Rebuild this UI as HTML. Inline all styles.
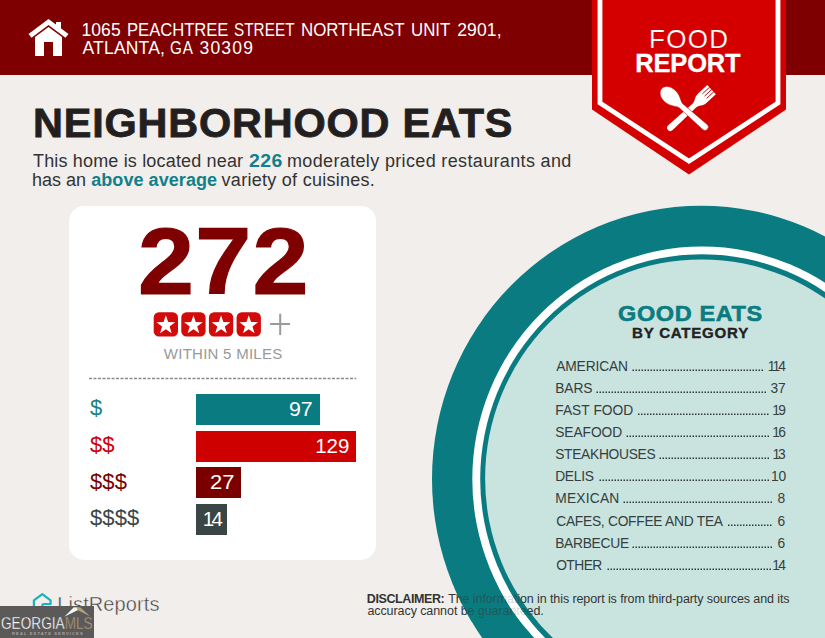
<!DOCTYPE html>
<html><head><meta charset="utf-8">
<style>
html,body{margin:0;padding:0;}
body{width:825px;height:638px;overflow:hidden;background:#f1eeeb;font-family:"Liberation Sans",sans-serif;position:relative;}
.abs{position:absolute;white-space:nowrap;line-height:1;}
#hdr{position:absolute;left:0;top:0;width:825px;height:75px;background:#7f0000;}
#bgsvg{position:absolute;left:0;top:0;}
.t{position:absolute;white-space:nowrap;line-height:1;transform-origin:0 0;}
#card{position:absolute;left:69px;top:205.5px;width:307px;height:354.5px;background:#fff;border-radius:15px;}
.bar{position:absolute;left:196px;height:31px;}
.bn{color:#fff;font-size:20.5px;}
.dl{font-size:22px;}
.ad{font-size:17.5px;color:#fff;}
.st{font-size:18px;color:#333;}
.sb{font-weight:bold;color:#12808a;}
.rl{font-size:13.8px;color:#34403f;}
</style></head><body>
<div id="hdr"></div>
<svg id="bgsvg" width="825" height="638" viewBox="0 0 825 638">
  <!-- circles -->
  <ellipse cx="701.1" cy="479" rx="269.1" ry="273.3" fill="#0a7c81"/>
  <ellipse cx="702" cy="479.2" rx="229.7" ry="232.6" fill="#ffffff"/>
  <ellipse cx="702" cy="479" rx="221.8" ry="224.8" fill="#0a7c81"/>
  <ellipse cx="701.5" cy="478.6" rx="216.4" ry="219.2" fill="#c9e3df"/>
  <!-- badge -->
  <polygon points="592,0 786,0 786,109.6 689,174.6 592,109.6" fill="#d40000"/>
  <polygon points="600,-5 778,-5 778,103 689,161.2 600,103" fill="none" stroke="#fff" stroke-width="4.8"/>

  <!-- spoon & fork -->
  <g fill="#fff">
    <g transform="translate(687.7,111.7) rotate(47.2)">
      <path d="M-3.3,23.5 L-2.6,-9 C-2.6,-13 -6.3,-14.5 -6.3,-20 L-6.3,-32.5 L6.3,-32.5 L6.3,-20 C6.3,-14.5 2.6,-13 2.6,-9 L3.3,23.5 A3.3,3.4 0 0 1 -3.3,23.5 Z"/>
      <g stroke="#c40000" stroke-width="0.9"><line x1="-3.1" y1="-32.8" x2="-3.1" y2="-23"/><line x1="0" y1="-32.8" x2="0" y2="-23"/><line x1="3.1" y1="-32.8" x2="3.1" y2="-23"/></g>
    </g>
    <g transform="translate(687.7,111.7) rotate(-48.5)" stroke="#d40000" stroke-width="0.5">
      <path d="M-3.4,23 L-2.7,-9 C-2.9,-12.5 -7.8,-16 -7.8,-24 C-7.8,-30.5 -4,-34.8 0,-34.8 C4,-34.8 7.8,-30.5 7.8,-24 C7.8,-16 2.9,-12.5 2.7,-9 L3.4,23 A3.4,3.4 0 0 1 -3.4,23 Z"/>
    </g>
  </g>
  <!-- house icon -->
  <g fill="#fff">
    <polygon points="48.5,19 68.5,34 65.5,37.8 48.5,25 31.5,37.8 28.5,34"/>
    <rect x="56" y="22" width="5" height="9"/>
    <path d="M35,37 L48.5,27 L62,37 L62,56 L53,56 L53,42 L44,42 L44,56 L35,56 Z"/>
  </g>
</svg>
<div class="t ad" id="a1_0" style="left:81.5px;top:22.4px;letter-spacing:0.067px;">1065</div>
<div class="t ad" id="a1_1" style="left:127.1px;top:22.4px;transform:scaleX(0.95);letter-spacing:-0.026px;">PEACHTREE</div>
<div class="t ad" id="a1_2" style="left:233.5px;top:22.4px;transform:scaleX(0.87);letter-spacing:0.09px;">STREET</div>
<div class="t ad" id="a1_3" style="left:300.5px;top:22.4px;transform:scaleX(0.965);letter-spacing:-0.05px;">NORTHEAST</div>
<div class="t ad" id="a1_4" style="left:411.2px;top:22.4px;transform:scaleX(0.96);letter-spacing:0px;">UNIT</div>
<div class="t ad" id="a1_5" style="left:457.2px;top:22.4px;letter-spacing:0.15px;">2901,</div>
<div class="t ad" id="a2_0" style="left:82.5px;top:40px;letter-spacing:0.2px;">ATLANTA,</div>
<div class="t ad" id="a2_1" style="left:169.7px;top:40px;transform:scaleX(0.87);letter-spacing:0.9px;">GA</div>
<div class="t ad" id="a2_2" style="left:199.5px;top:40px;letter-spacing:1.2px;">30309</div>
<div class="t" id="fr1" style="left:648.6px;top:26.8px;font-size:25px;color:#fff;transform:scaleX(1.04);letter-spacing:1.218px;-webkit-text-stroke:0.2px #d40000;">FOOD</div>
<div class="t" id="fr2" style="left:635.2px;top:51.2px;font-size:25.5px;color:#fff;font-weight:bold;letter-spacing:-0.16px;-webkit-text-stroke:0.3px #fff;">REPORT</div>
<div class="t" id="title" style="left:33.2px;top:103.2px;font-size:40px;font-weight:bold;color:#231f20;transform:scaleX(1.035);letter-spacing:0.797px;-webkit-text-stroke:0.8px #231f20;">NEIGHBORHOOD EATS</div>
<div class="t st" id="s1a" style="left:33px;top:152px;letter-spacing:0.1667px;">This home is located near</div>
<div class="t st sb" id="s1b" style="left:249.2px;top:152px;letter-spacing:0.46px;transform:scaleX(1.08);">226</div>
<div class="t st" id="s1c" style="left:287px;top:152px;letter-spacing:0.35px;">moderately priced restaurants and</div>
<div class="t st" id="s2a" style="left:32px;top:170.5px;letter-spacing:0px;">has an</div>
<div class="t st sb" id="s2b" style="left:91.2px;top:170.5px;letter-spacing:0.0667px;">above average</div>
<div class="t st" id="s2c" style="left:221.6px;top:170.5px;letter-spacing:0.2737px;">variety of cuisines.</div>
<div id="card"></div>

<svg class="abs" style="left:0;top:0;" width="825" height="638" viewBox="0 0 825 638">
  
  <g>
    <rect x="153.7" y="312.2" width="24.3" height="24.2" rx="5.2" fill="#d20a0a"/>
    <rect x="181.3" y="312.2" width="24.3" height="24.2" rx="5.2" fill="#d20a0a"/>
    <rect x="208.9" y="312.2" width="24.3" height="24.2" rx="5.2" fill="#d20a0a"/>
    <rect x="236.6" y="312.2" width="24.3" height="24.2" rx="5.2" fill="#d20a0a"/>
    <polygon transform="translate(165.85,325.2)" points="0,-9.9 2.3,-3.15 9.35,-3.05 3.75,1.2 5.8,8 0,3.95 -5.8,8 -3.75,1.2 -9.35,-3.05 -2.3,-3.15" fill="#fff"/>
    <polygon transform="translate(193.45,325.2)" points="0,-9.9 2.3,-3.15 9.35,-3.05 3.75,1.2 5.8,8 0,3.95 -5.8,8 -3.75,1.2 -9.35,-3.05 -2.3,-3.15" fill="#fff"/>
    <polygon transform="translate(221.05,325.2)" points="0,-9.9 2.3,-3.15 9.35,-3.05 3.75,1.2 5.8,8 0,3.95 -5.8,8 -3.75,1.2 -9.35,-3.05 -2.3,-3.15" fill="#fff"/>
    <polygon transform="translate(248.75,325.2)" points="0,-9.9 2.3,-3.15 9.35,-3.05 3.75,1.2 5.8,8 0,3.95 -5.8,8 -3.75,1.2 -9.35,-3.05 -2.3,-3.15" fill="#fff"/>
    <path d="M270.1,324.1 H290.1 M280.2,313.7 V335" stroke="#9a9a9a" stroke-width="2" fill="none"/>
    <line x1="89" y1="378.5" x2="356.2" y2="378.5" stroke="#8a8a8a" stroke-width="1.4" stroke-dasharray="3 1.5"/>
  </g>
</svg>
<div class="bar" style="top:394.1px;height:30.9px;width:124.2px;background:#0a7c81;"></div>
<div class="bar" style="top:430.7px;height:31.3px;width:160.1px;background:#cf0000;"></div>
<div class="bar" style="top:467.3px;height:30.9px;width:45.4px;background:#7a0000;"></div>
<div class="bar" style="top:503.8px;height:30.8px;width:30.5px;background:#3a4646;"></div>
<div class="t bn" id="n1" style="left:288.8px;top:398.5px;letter-spacing:0px;transform:scaleX(1.04);">97</div>
<div class="t bn" id="n2" style="left:315.2px;top:435.6px;letter-spacing:0px;">129</div>
<div class="t bn" id="n3" style="left:209.6px;top:471.8px;letter-spacing:0px;transform:scaleX(1.07);">27</div>
<div class="t bn" id="n4" style="left:202.8px;top:508.5px;letter-spacing:-2.6px;">14</div>
<div class="t dl" id="l1" style="left:89.9px;top:397.4px;color:#16838a;letter-spacing:0.15px;">$</div>
<div class="t dl" id="l2" style="left:89.9px;top:434.1px;color:#cf0000;letter-spacing:0.15px;">$$</div>
<div class="t dl" id="l3" style="left:89.9px;top:470.8px;color:#7a0000;letter-spacing:0.15px;">$$$</div>
<div class="t dl" id="l4" style="left:89.9px;top:507.4px;color:#3a4646;letter-spacing:0.15px;">$$$$</div>
<div class="t" id="big" style="left:138px;top:213.6px;font-size:95px;font-weight:bold;color:#7f0000;transform:scaleX(1.06);letter-spacing:1.13px;-webkit-text-stroke:1.2px #7f0000;">272</div>
<div class="t" id="w5" style="left:163.8px;top:346px;font-size:15px;color:#999;letter-spacing:0.2615px;">WITHIN 5 MILES</div>
<div class="t rl" id="r0" style="left:556.2px;top:359.5px;letter-spacing:-0.143px;">AMERICAN</div>
<div class="t rl" id="m0" style="left:767.8px;top:359.5px;letter-spacing:-1.9px;">114</div>
<div class="t rl" id="r1" style="left:555.2px;top:382.2px;letter-spacing:-0.067px;">BARS</div>
<div class="t rl" id="m1" style="left:770.6px;top:382.2px;letter-spacing:-0.2px;">37</div>
<div class="t rl" id="r2" style="left:555.2px;top:404.2px;letter-spacing:0.025px;">FAST FOOD</div>
<div class="t rl" id="m2" style="left:772.3px;top:404.2px;letter-spacing:-1.8px;">19</div>
<div class="t rl" id="r3" style="left:555.2px;top:425.9px;letter-spacing:-0.067px;">SEAFOOD</div>
<div class="t rl" id="m3" style="left:772.3px;top:425.9px;letter-spacing:-1.8px;">16</div>
<div class="t rl" id="r4" style="left:555.2px;top:447.9px;letter-spacing:-0.3px;">STEAKHOUSES</div>
<div class="t rl" id="m4" style="left:772.6px;top:447.9px;letter-spacing:-2.2px;">13</div>
<div class="t rl" id="r5" style="left:555.2px;top:469.6px;letter-spacing:-0.3px;">DELIS</div>
<div class="t rl" id="m5" style="left:771.1px;top:469.6px;letter-spacing:-0.2px;">10</div>
<div class="t rl" id="r6" style="left:555.2px;top:491.6px;letter-spacing:0.2px;">MEXICAN</div>
<div class="t rl" id="m6" style="left:777.5px;top:491.6px;letter-spacing:0px;">8</div>
<div class="t rl" id="r7" style="left:556.2px;top:515.2px;letter-spacing:-0.27px;">CAFES, COFFEE AND TEA</div>
<div class="t rl" id="m7" style="left:777.5px;top:515.2px;letter-spacing:0px;">6</div>
<div class="t rl" id="r8" style="left:555.2px;top:537.3px;letter-spacing:-0.286px;">BARBECUE</div>
<div class="t rl" id="m8" style="left:777.5px;top:537.3px;letter-spacing:0px;">6</div>
<div class="t rl" id="r9" style="left:556.2px;top:559.0px;letter-spacing:-0.55px;">OTHER</div>
<div class="t rl" id="m9" style="left:772.3px;top:559.0px;letter-spacing:-1.8px;">14</div>
<svg class="abs" style="left:0;top:0;" width="825" height="638" viewBox="0 0 825 638"><g stroke="#2f3b3b" stroke-width="1.5" stroke-dasharray="1.5 1.5">
<line x1="632.5" y1="370.25" x2="763.0" y2="370.25"/>
<line x1="596.5" y1="392.25" x2="766.0" y2="392.25"/>
<line x1="638.0" y1="414.25" x2="768.5" y2="414.25"/>
<line x1="626.5" y1="436.25" x2="769.0" y2="436.25"/>
<line x1="659.5" y1="458.25" x2="769.0" y2="458.25"/>
<line x1="599.5" y1="480.25" x2="769.0" y2="480.25"/>
<line x1="623.5" y1="502.25" x2="772.0" y2="502.25"/>
<line x1="728.0" y1="525.25" x2="771.5" y2="525.25"/>
<line x1="632.5" y1="547.25" x2="772.0" y2="547.25"/>
<line x1="607.5" y1="569.25" x2="771.0" y2="569.25"/>
</g></svg>
<div class="t" id="ge" style="left:618.3px;top:301.5px;font-size:22.8px;font-weight:bold;color:#0a7c81;transform:scaleX(1.03);letter-spacing:0.6068px;-webkit-text-stroke:0.6px #0a7c81;">GOOD EATS</div>
<div class="t" id="bc" style="left:631.8px;top:326.4px;font-size:14.5px;font-weight:bold;color:#222;transform:scaleX(1.04);letter-spacing:0.73px;-webkit-text-stroke:0.35px #222;">BY CATEGORY</div>
<div class="t" id="d1a" style="left:366.8px;top:593px;font-size:12.5px;color:#333;letter-spacing:-0.395px;"><b>DISCLAIMER:</b></div>
<div class="t" id="d1b" style="left:448.2px;top:593px;font-size:12.5px;color:#333;letter-spacing:-0.092px;">The information in this report is from third-party sources and its</div>
<div class="t" id="d2" style="left:367.4px;top:605px;font-size:12.5px;color:#333;letter-spacing:-0.076px;">accuracy cannot be guaranteed.</div>

<svg class="abs" style="left:0;top:0;" width="825" height="638" viewBox="0 0 825 638">
  <path d="M33.9,612 L33.9,600.3 L42.3,594.1 L50.6,600.3 L50.6,604 L44,604 Q42.3,604 42.3,606 L42.3,612" fill="none" stroke="#17b4bb" stroke-width="2.2" stroke-linejoin="round"/>
</svg>
<div class="t" id="lr" style="left:57.3px;top:593.7px;font-size:20px;color:#3c3c3c;letter-spacing:0.1px;-webkit-text-stroke:0.45px #f1eeeb;">ListReports</div>
<div id="wm" style="position:absolute;left:0;top:606.2px;width:93.8px;height:32px;background:#5c5959;"></div>
<svg class="abs" style="left:0;top:0;" width="825" height="638" viewBox="0 0 825 638">
  <polygon points="64.3,616.7 73.8,607.3 78,607.5 78.6,609.8" fill="#f4f4f0"/>
  <polygon points="76.3,607.3 80.4,607.6 90,616.3 77.8,610.3" fill="#b0a37c"/>
</svg>
<div class="t" id="gm" style="left:1px;top:615.6px;font-size:16px;color:#fff;transform:scaleX(0.852);-webkit-text-stroke:0.3px #5c5959;"><span>GEORGIA</span><span style="color:#ac9b78">MLS</span></div>
<div class="t" id="res" style="left:12px;top:632.3px;font-size:8px;font-weight:bold;color:#a9a6a6;letter-spacing:2.34px;transform:scale(0.5);">REAL ESTATE SERVICES</div>
<svg class="abs" style="left:0;top:0;" width="825" height="638" viewBox="0 0 825 638">
  <defs><clipPath id="dc"><rect x="360" y="588" width="300" height="34"/></clipPath></defs>
  <g clip-path="url(#dc)" fill-rule="evenodd">
    <path d="M432.0,479.0 a269.1,273.3 0 1,0 538.2,0 a269.1,273.3 0 1,0 -538.2,0 Z M472.3,479.2 a229.7,232.6 0 1,0 459.4,0 a229.7,232.6 0 1,0 -459.4,0 Z" fill="#0a7c81" opacity="0.52"/>
    <path d="M472.3,479.2 a229.7,232.6 0 1,0 459.4,0 a229.7,232.6 0 1,0 -459.4,0 Z M480.2,479.0 a221.8,224.8 0 1,0 443.6,0 a221.8,224.8 0 1,0 -443.6,0 Z" fill="#ffffff" opacity="0.82"/>
    <path d="M480.2,479.0 a221.8,224.8 0 1,0 443.6,0 a221.8,224.8 0 1,0 -443.6,0 Z M485.1,478.6 a216.4,219.2 0 1,0 432.8,0 a216.4,219.2 0 1,0 -432.8,0 Z" fill="#0a7c81" opacity="0.52"/>
  </g>
</svg>
</body></html>
